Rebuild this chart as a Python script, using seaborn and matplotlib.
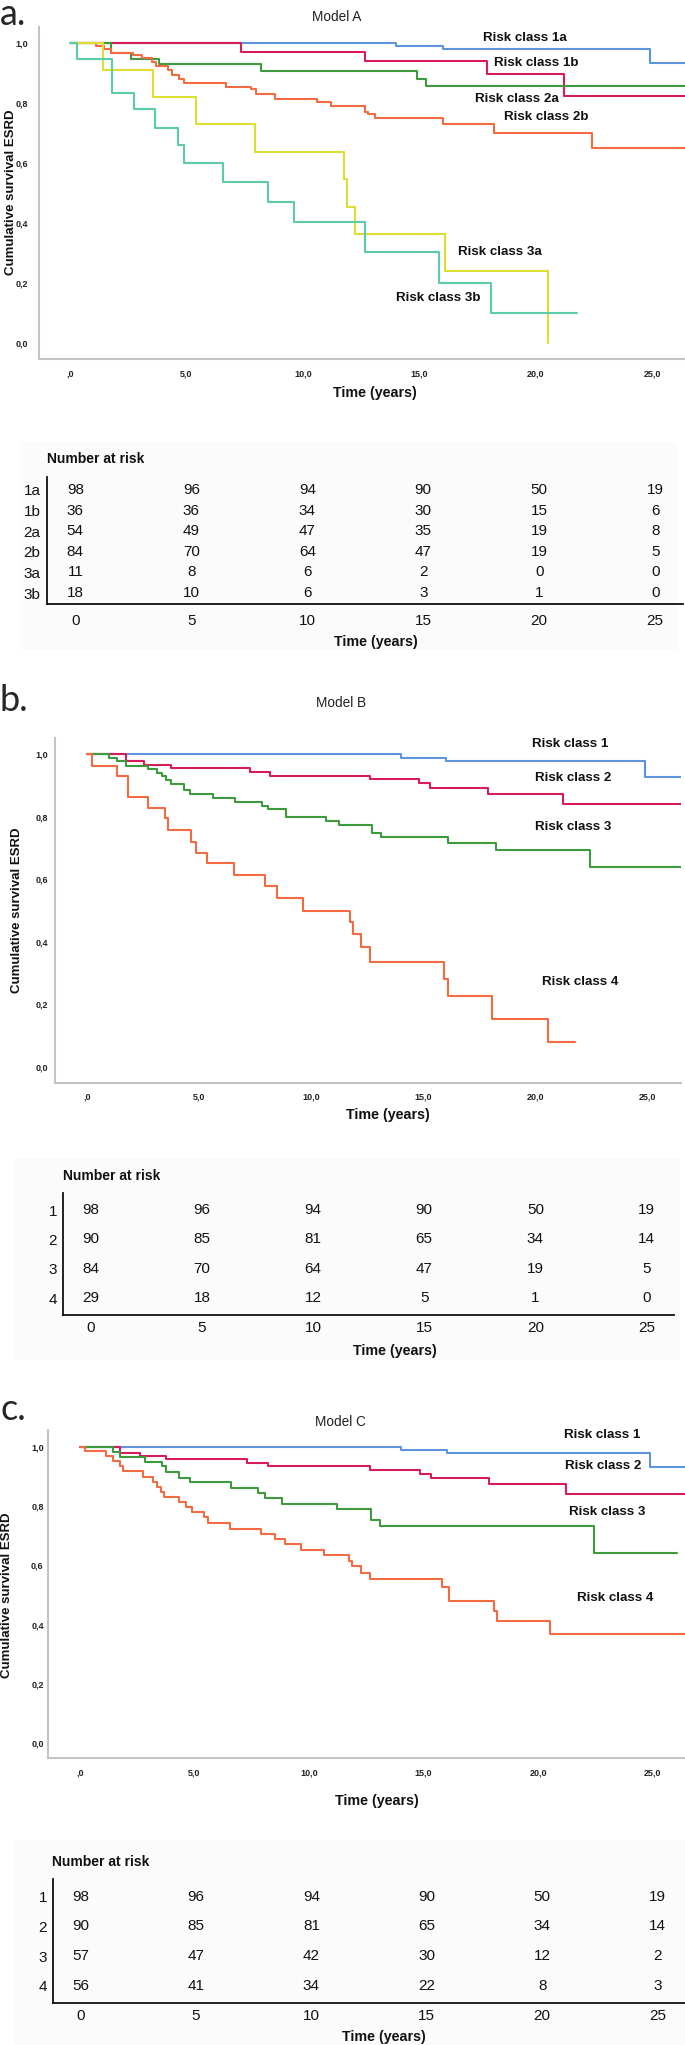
import numpy as np
import pandas as pd
import matplotlib
matplotlib.use("Agg")
import matplotlib.pyplot as plt
import seaborn as sns

sns.set_theme(style="white")
plt.rcParams['font.family'] = ['Liberation Sans', 'DejaVu Sans']

# ---------------- DATA ----------------
T_END = 26.4
# Model A
A_1a_t = [0, 14.0, 16.0, 24.9, T_END]
A_1a_s = [1.0, 0.99, 0.98, 0.932, 0.932]
A_1b_t = [0, 7.34, 12.67, 17.9, 21.2, T_END]
A_1b_s = [1.0, 0.97, 0.94, 0.897, 0.823, 0.823]
A_2a_t = [0, 1.75, 2.6, 3.8, 8.2, 14.9, 15.3, T_END]
A_2a_s = [1.0, 0.965, 0.945, 0.928, 0.906, 0.88, 0.856, 0.856]
A_2b_t = [0, 1.1, 1.45, 1.75, 2.7, 3.1, 3.5, 3.7, 4.2, 4.4, 4.7, 4.9, 6.7, 7.75, 8.0, 8.8,
          10.6, 11.2, 12.67, 12.8, 13.1, 16.0, 18.2, 22.4, T_END]
A_2b_s = [1.0, 0.989, 0.978, 0.965, 0.959, 0.948, 0.937, 0.922, 0.909, 0.892, 0.879, 0.865,
          0.854, 0.845, 0.829, 0.814, 0.804, 0.79, 0.77, 0.762, 0.748, 0.728, 0.701, 0.649, 0.649]
A_3a_t = [0, 1.41, 3.56, 5.41, 7.96, 11.78, 11.9, 12.23, 16.1, 20.5]
A_3a_s = [1.0, 0.909, 0.818, 0.728, 0.636, 0.545, 0.455, 0.363, 0.242, 0.0]
A_3b_t = [0, 0.32, 1.81, 2.74, 3.66, 4.65, 4.9, 6.57, 8.52, 9.62, 12.67, 15.85, 18.08, 21.76]
A_3b_s = [1.0, 0.945, 0.834, 0.779, 0.717, 0.659, 0.599, 0.538, 0.471, 0.405, 0.303, 0.202, 0.102, 0.102]

# Model B
B_1_t = [0, 14.0, 16.0, 24.9, 26.5]
B_1_s = [1.0, 0.989, 0.978, 0.928, 0.928]
B_2_t = [0, 1.74, 2.53, 3.72, 7.28, 8.17, 12.63, 14.8, 15.3, 17.87, 21.24, 26.5]
B_2_s = [1.0, 0.98, 0.966, 0.955, 0.944, 0.931, 0.92, 0.907, 0.892, 0.873, 0.84, 0.84]
B_3_t = [0, 0.95, 1.35, 1.74, 2.73, 3.13, 3.33, 3.52, 3.72, 4.3, 4.6, 5.6, 6.6, 7.78, 8.08,
         8.87, 10.65, 11.24, 12.69, 13.1, 16.1, 18.23, 22.43, 26.5]
B_3_s = [1.0, 0.989, 0.978, 0.964, 0.953, 0.941, 0.93, 0.918, 0.905, 0.886, 0.872, 0.859, 0.848,
         0.835, 0.824, 0.80, 0.787, 0.774, 0.749, 0.736, 0.717, 0.694, 0.64, 0.64]
B_4_t = [0, 0.22, 1.35, 1.84, 2.73, 3.46, 3.62, 4.61, 4.87, 5.36, 6.55, 7.94, 8.47, 9.62,
         11.74, 11.88, 12.23, 12.63, 15.9, 16.1, 18.07, 20.55, 21.77]
B_4_s = [1.0, 0.963, 0.931, 0.864, 0.829, 0.795, 0.758, 0.72, 0.685, 0.651, 0.614, 0.578,
         0.539, 0.499, 0.462, 0.424, 0.382, 0.334, 0.28, 0.226, 0.152, 0.08, 0.08]

# Model C
C_1_t = [0, 14.02, 16.0, 24.86, T_END]
C_1_s = [1.0, 0.989, 0.979, 0.93, 0.93]
C_2_t = [0, 1.74, 2.61, 3.77, 7.31, 8.22, 12.66, 14.85, 15.33, 17.85, 21.23, T_END]
C_2_s = [1.0, 0.98, 0.97, 0.957, 0.946, 0.933, 0.921, 0.908, 0.893, 0.874, 0.84, 0.84]
C_3_t = [0, 1.45, 1.74, 2.86, 3.58, 3.77, 4.35, 4.8, 6.61, 7.77, 8.06, 8.84, 11.21, 12.72,
         13.09, 22.43, 26.06]
C_3_s = [1.0, 0.983, 0.966, 0.949, 0.933, 0.913, 0.893, 0.879, 0.862, 0.843, 0.826, 0.807,
         0.79, 0.753, 0.733, 0.64, 0.64]
C_4_t = [0, 0.23, 1.16, 1.45, 1.74, 1.9, 2.75, 3.19, 3.38, 3.54, 3.67, 4.35, 4.64, 4.89, 5.41,
         5.61, 6.57, 7.89, 8.51, 8.95, 9.67, 10.67, 11.76, 11.89, 12.28, 12.66, 15.82, 16.09,
         18.08, 18.21, 20.5, T_END]
C_4_s = [1.0, 0.985, 0.969, 0.953, 0.935, 0.918, 0.897, 0.88, 0.863, 0.846, 0.829, 0.812,
         0.796, 0.779, 0.761, 0.742, 0.721, 0.706, 0.688, 0.671, 0.652, 0.635, 0.615, 0.596,
         0.575, 0.553, 0.528, 0.48, 0.446, 0.412, 0.367, 0.367]

# Number at risk tables
RISK_TIMES = [0, 5, 10, 15, 20, 25]
A_ROWS = ["1a", "1b", "2a", "2b", "3a", "3b"]
A_RISK = [[98, 96, 94, 90, 50, 19],
          [36, 36, 34, 30, 15, 6],
          [54, 49, 47, 35, 19, 8],
          [84, 70, 64, 47, 19, 5],
          [11, 8, 6, 2, 0, 0],
          [18, 10, 6, 3, 1, 0]]
B_ROWS = ["1", "2", "3", "4"]
B_RISK = [[98, 96, 94, 90, 50, 19],
          [90, 85, 81, 65, 34, 14],
          [84, 70, 64, 47, 19, 5],
          [29, 18, 12, 5, 1, 0]]
C_ROWS = ["1", "2", "3", "4"]
C_RISK = [[98, 96, 94, 90, 50, 19],
          [90, 85, 81, 65, 34, 14],
          [57, 47, 42, 30, 12, 2],
          [56, 41, 34, 22, 8, 3]]

X_TICKS = [0, 5, 10, 15, 20, 25]
X_TICK_LABELS = [",0", "5,0", "10,0", "15,0", "20,0", "25,0"]
Y_TICKS = [0.0, 0.2, 0.4, 0.6, 0.8, 1.0]
Y_TICK_LABELS = ["0,0", "0,2", "0,4", "0,6", "0,8", "1,0"]

COL = {"blue": "#5d94db", "red": "#d61c5b", "green": "#3d9b3d",
       "orange": "#f26b43", "yellow": "#dede30", "teal": "#5ccbab"}

# ---------------- LAYOUT ----------------
W, H = 685, 2045
fig = plt.figure(figsize=(W / 100, H / 100), dpi=100)
fig.patch.set_facecolor("white")

SANS = ['Liberation Sans', 'DejaVu Sans']


def add_ax(left, top, right, bottom, z=1):
    ax = fig.add_axes([left / W, 1 - bottom / H, (right - left) / W, (bottom - top) / H])
    ax.set_zorder(z)
    return ax


def ftext(x, y, s, **kw):
    fig.text(x / W, 1 - y / H, s, **kw)


def km_panel(box, curves, xlim, ylim, xpad, ypad, title_xy, title, xl_xy, yl_xy, legend):
    ax = add_ax(*box)
    rows = []
    for name, (t, s, c) in curves.items():
        for ti, si in zip(t, s):
            rows.append({"time": ti, "surv": si, "cls": name})
    df = pd.DataFrame(rows)
    palette = {n: v[2] for n, v in curves.items()}
    sns.lineplot(data=df, x="time", y="surv", hue="cls", palette=palette, estimator=None,
                 drawstyle="steps-post", linewidth=1.5, legend=False, ax=ax, sort=True)
    ax.set_xlim(*xlim)
    ax.set_ylim(*ylim)
    ax.set_xticks(X_TICKS)
    ax.set_xticklabels(X_TICK_LABELS)
    ax.set_yticks(Y_TICKS)
    ax.set_yticklabels(Y_TICK_LABELS)
    ax.set_xlabel("")
    ax.set_ylabel("")
    for sp in ["top", "right"]:
        ax.spines[sp].set_visible(False)
    for sp in ["left", "bottom"]:
        ax.spines[sp].set_color("#c4c4c4")
        ax.spines[sp].set_linewidth(1.5)
    ax.tick_params(axis="x", length=0, pad=xpad)
    ax.tick_params(axis="y", length=0, pad=ypad)
    for lab in ax.get_xticklabels() + ax.get_yticklabels():
        lab.set_fontsize(6.5)
        lab.set_fontweight("bold")
        lab.set_family(SANS)
        lab.set_color("#222222")
    ftext(*title_xy, title, ha="center", va="center", fontsize=9.8, family=SANS, color="#222222")
    ftext(*xl_xy, "Time (years)", ha="center", va="center", fontsize=10.3, fontweight="bold",
          family=SANS, color="#111111")
    ftext(*yl_xy, "Cumulative survival ESRD", ha="center", va="center", rotation=90,
          fontsize=9.5, fontweight="bold", family=SANS, color="#111111")
    for (x, y), s in legend:
        ftext(x, y, s, ha="center", va="center", fontsize=9.6, fontweight="bold",
              family=SANS, color="#111111")
    return ax


def risk_table(box, xlim, rows, vals, ylim, nar_xy, xl_xy, bg, xpad=2):
    # faint background box
    bgax = add_ax(bg[0], bg[1], bg[2], bg[3], z=0)
    bgax.set_facecolor("#fbfbfb")
    bgax.set_xticks([])
    bgax.set_yticks([])
    for sp in bgax.spines.values():
        sp.set_visible(False)
    ax = add_ax(*box, z=2)
    ax.patch.set_alpha(0)
    ax.set_xlim(*xlim)
    ax.set_ylim(*ylim)
    for i, row in enumerate(vals):
        for t, v in zip(RISK_TIMES, row):
            ax.text(t, i, str(v), ha="center", va="center", fontsize=11, family=SANS,
                    color="#111111")
    ax.set_xticks(RISK_TIMES)
    ax.set_xticklabels([str(t) for t in RISK_TIMES])
    ax.set_yticks(range(len(rows)))
    ax.set_yticklabels(rows)
    for sp in ["top", "right"]:
        ax.spines[sp].set_visible(False)
    for sp in ["left", "bottom"]:
        ax.spines[sp].set_color("#111111")
        ax.spines[sp].set_linewidth(1.3)
    ax.tick_params(axis="both", length=2.5, width=0.8, color="#333333", pad=2)
    ax.tick_params(axis="x", pad=xpad)
    for lab in ax.get_xticklabels() + ax.get_yticklabels():
        lab.set_fontsize(11)
        lab.set_family(SANS)
        lab.set_color("#111111")
    ftext(*nar_xy, "Number at risk", ha="left", va="center", fontsize=10, fontweight="bold",
          family=SANS, color="#111111", zorder=5)
    ftext(*xl_xy, "Time (years)", ha="center", va="center", fontsize=10.3, fontweight="bold",
          family=SANS, color="#111111", zorder=5)
    return ax


PANEL_FONT = ['Lato', 'DejaVu Sans']

# ---------------- PANEL A ----------------
ftext(0, 25, "a.", ha="left", va="baseline", fontsize=26, family=PANEL_FONT)
km_panel((39, 26.7, 685, 359.3),
         {"1a": (A_1a_t, A_1a_s, COL["blue"]), "1b": (A_1b_t, A_1b_s, COL["red"]),
          "2a": (A_2a_t, A_2a_s, COL["green"]), "2b": (A_2b_t, A_2b_s, COL["orange"]),
          "3a": (A_3a_t, A_3a_s, COL["yellow"]), "3b": (A_3b_t, A_3b_s, COL["teal"])},
         (-1.33, 26.4), (-0.053, 1.053), 7, 8,
         (337, 17), "Model A", (375, 393), (11, 192.5),
         [((524.5, 37.7), "Risk class 1a"), ((536.5, 62.7), "Risk class 1b"),
          ((516.5, 99.3), "Risk class 2a"), ((546.7, 116.7), "Risk class 2b"),
          ((500, 252.3), "Risk class 3a"), ((438, 297.7), "Risk class 3b")])
risk_table((46.8, 477, 683, 604), (-1.23, 26.2), A_ROWS, A_RISK, (5.53, -0.63),
           (47, 459.3), (375.5, 642), (20, 442, 677, 650), xpad=4.5)

# ---------------- PANEL B ----------------
ftext(0, 711, "b.", ha="left", va="baseline", fontsize=26, family=PANEL_FONT)
km_panel((55.4, 738, 680.6, 1082.7),
         {"1": (B_1_t, B_1_s, COL["blue"]), "2": (B_2_t, B_2_s, COL["red"]),
          "3": (B_3_t, B_3_s, COL["green"]), "4": (B_4_t, B_4_s, COL["orange"])},
         (-1.42, 26.48), (-0.051, 1.052), 7, 5,
         (341, 702.7), "Model B", (388, 1115), (17, 910),
         [((569.8, 744), "Risk class 1"), ((573, 778.3), "Risk class 2"),
          ((573, 827.3), "Risk class 3"), ((580, 981.7), "Risk class 4")])
risk_table((63.4, 1193, 674, 1315), (-1.24, 26.24), B_ROWS, B_RISK, (3.57, -0.58),
           (63, 1176), (394.6, 1350.7), (15, 1158, 680, 1360))

# ---------------- PANEL C ----------------
ftext(0, 1420, "c.", ha="left", va="baseline", fontsize=26, family=PANEL_FONT)
km_panel((47.9, 1430, 685, 1757.7),
         {"1": (C_1_t, C_1_s, COL["blue"]), "2": (C_2_t, C_2_s, COL["red"]),
          "3": (C_3_t, C_3_s, COL["green"]), "4": (C_4_t, C_4_s, COL["orange"])},
         (-1.39, 26.4), (-0.049, 1.056), 8, 3,
         (340.5, 1421.7), "Model C", (377, 1800.7), (6.7, 1595),
         [((602, 1435), "Risk class 1"), ((603, 1466), "Risk class 2"),
          ((607.5, 1511.7), "Risk class 3"), ((615.4, 1598.3), "Risk class 4")])
risk_table((53.2, 1879.3, 685, 2002.7), (-1.19, 26.19), C_ROWS, C_RISK, (3.57, -0.59),
           (52, 1861.7), (383.4, 2037.3), (15, 1840, 685, 2045))

fig.savefig("out.png", dpi=100)
